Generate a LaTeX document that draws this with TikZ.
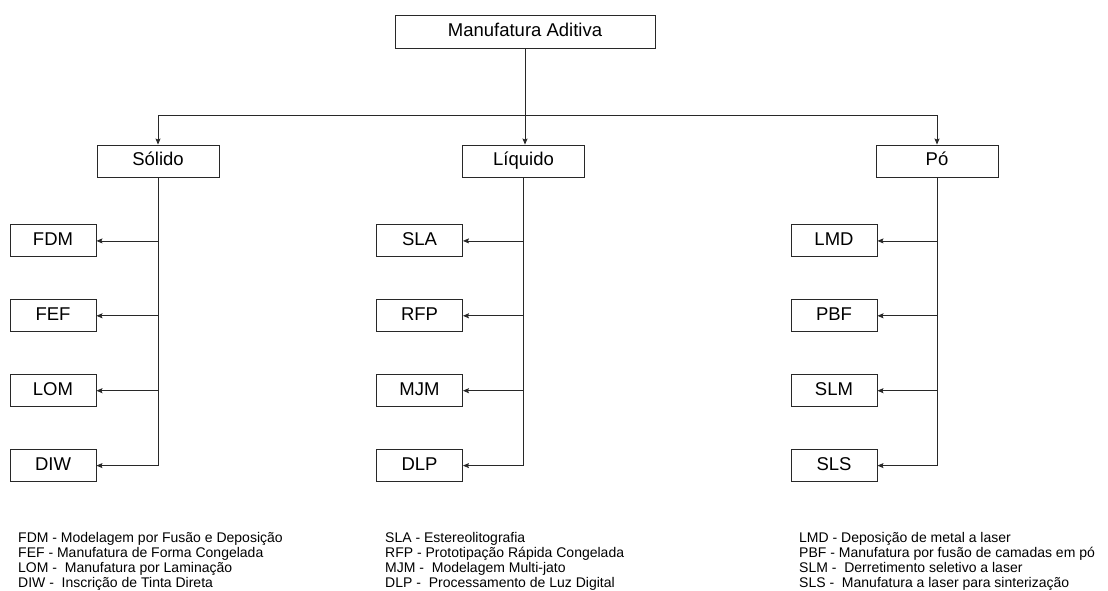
\documentclass[tikz,border=0pt]{standalone}
\usepackage{fontspec}
\setmainfont{Liberation Sans}
\usepackage{tikz}
\usetikzlibrary{arrows.meta, positioning}
\definecolor{LineGray}{RGB}{40, 40, 40}
\tikzset{
  box/.style={rectangle, draw=LineGray, line width=0.9pt, fill=white,
              minimum width=#1, minimum height=32pt, inner sep=0pt,
              text height=13.5pt, text depth=4pt,
              font=\fontsize{18.5}{20}\selectfont, text=black, align=center},
  box/.default=86pt,
  arr/.style={-{Stealth[length=6pt, width=5pt, inset=1pt]}, line width=0.8pt, color=LineGray},
  trunk/.style={line width=0.8pt, color=LineGray},
  legend/.style={anchor=north west, inner sep=0pt, align=left,
                 font=\fontsize{14}{15}\selectfont, text=black},
}
\begin{document}
\begin{tikzpicture}[x=1pt, y=-1pt]
      \useasboundingbox (0,0) rectangle (1108,591);

      \node[box=260pt, minimum height=33pt] (ma) at (525,31.5) {Manufatura Aditiva};
      \coordinate (bar) at (525,115);

      \node[box=122pt] (sol) at (158,161) {Sólido};
      \node[box=122pt] (liq) at (523.5,161) {Líquido};
      \node[box=122pt] (po)  at (937,161) {Pó};

      % solido
      \node[box, below=47pt of sol, xshift=-105pt] (fdm) {FDM};
      \node[box, below=42pt of fdm] (fef) {FEF};
      \node[box, below=42pt of fef] (lom) {LOM};
      \node[box, below=42pt of lom] (diw) {DIW};

      % liquido
      \node[box, below=47pt of liq, xshift=-104pt] (sla) {SLA};
      \node[box, below=42pt of sla] (rfp) {RFP};
      \node[box, below=42pt of rfp] (mjm) {MJM};
      \node[box, below=42pt of mjm] (dlp) {DLP};

      % po
      \node[box, below=47pt of po, xshift=-103pt] (lmd) {LMD};
      \node[box, below=42pt of lmd] (pbf) {PBF};
      \node[box, below=42pt of pbf] (slm) {SLM};
      \node[box, below=42pt of slm] (sls) {SLS};

      \draw[arr] (ma.south) -- (ma.south |- liq.north);
      \draw[arr] (bar) -| (sol.north);
      \draw[arr] (bar) -| (po.north);

      \draw[trunk] (sol.south) -- (sol.south |- diw);
      \draw[arr] (sol.south |- fdm) -- (fdm.east);
      \draw[arr] (sol.south |- fef) -- (fef.east);
      \draw[arr] (sol.south |- lom) -- (lom.east);
      \draw[arr] (sol.south |- diw) -- (diw.east);

      \draw[trunk] (liq.south) -- (liq.south |- dlp);
      \draw[arr] (liq.south |- sla) -- (sla.east);
      \draw[arr] (liq.south |- rfp) -- (rfp.east);
      \draw[arr] (liq.south |- mjm) -- (mjm.east);
      \draw[arr] (liq.south |- dlp) -- (dlp.east);

      \draw[trunk] (po.south) -- (po.south |- sls);
      \draw[arr] (po.south |- lmd) -- (lmd.east);
      \draw[arr] (po.south |- pbf) -- (pbf.east);
      \draw[arr] (po.south |- slm) -- (slm.east);
      \draw[arr] (po.south |- sls) -- (sls.east);

      % legendas
      \node[legend] (legsol) at (18,532)
           {FDM - Modelagem por Fusão e Deposição\\
            FEF - Manufatura de Forma Congelada\\
            LOM -\ \ Manufatura por Laminação\\
            DIW -\ \ Inscrição de Tinta Direta};
      \node[legend] (legliq) at (385,532)
           {SLA - Estereolitografia\\
            RFP - Prototipação Rápida Congelada\\
            MJM -\ \ Modelagem Multi-jato\\
            DLP -\ \ Processamento de Luz Digital};
      \node[legend] (legpo) at (799,532)
           {LMD - Deposição de metal a laser\\
            PBF - Manufatura por fusão de camadas em pó\\
            SLM -\ \ Derretimento seletivo a laser\\
            SLS -\ \ Manufatura a laser para sinterização};
    \end{tikzpicture}
\end{document}
